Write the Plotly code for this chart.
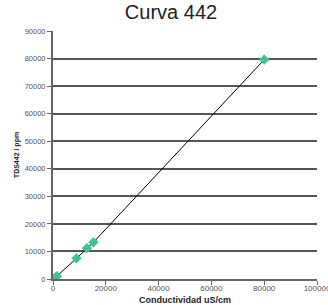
import plotly.graph_objects as go

conductividad = [0, 1413, 8900, 12880, 15300, 80000]
tds442 = [0, 1000, 7500, 11200, 13300, 79600]
x_ticks = [0, 20000, 40000, 60000, 80000, 100000]
y_ticks = [0, 10000, 20000, 30000, 40000, 50000, 60000, 70000, 80000, 90000]

fig = go.Figure()
fig.add_trace(go.Scatter(x=conductividad, y=tds442, mode="lines",
                         line=dict(color="black", width=1), showlegend=False))
fig.add_trace(go.Scatter(x=conductividad, y=tds442, mode="markers",
                         marker=dict(symbol="diamond", size=8, color="#3CC493"),
                         showlegend=False))

fig.update_layout(
    width=328, height=305,
    margin=dict(l=53, r=11, t=31, b=26, autoexpand=False),
    paper_bgcolor="white", plot_bgcolor="white",
    title=dict(text="Curva 442", xref="paper", x=0.447, xanchor="center",
               yref="container", y=0.985, yanchor="top",
               font=dict(family="Liberation Sans, Arial", size=20, color="#222")),
    font=dict(family="Liberation Sans, Arial"),
)
fig.update_xaxes(range=[0, 100000], tickvals=x_ticks, ticktext=[str(v) for v in x_ticks],
                 showgrid=False, showline=True, linecolor="#666", linewidth=2,
                 ticks="outside", ticklen=4, tickcolor="#666", automargin=False,
                 ticklabeloverflow="allow", ticklabelstandoff=-4,
                 tickfont=dict(size=8, color="#555"), zeroline=False)
fig.update_yaxes(range=[0, 90000], tickvals=y_ticks, ticktext=[str(v) for v in y_ticks],
                 showgrid=True, gridcolor="#555", gridwidth=1.5,
                 showline=True, linecolor="#666", linewidth=2,
                 ticks="outside", ticklen=4, tickcolor="#666", automargin=False,
                 tickfont=dict(size=7.5, color="#555"), zeroline=False,
                 title=dict(text="<b>TDS442 / ppm</b>", font=dict(size=7, color="#222"), standoff=4))

fig.add_annotation(text="<b>Conductividad uS/cm</b>", xref="paper", yref="paper",
                   x=0.5, y=0, yshift=-21, xanchor="center", yanchor="middle",
                   showarrow=False, font=dict(size=9, color="#222"))

fig.write_html("out.html", config={"displayModeBar": False},
               post_script="document.body.style.margin='0';document.body.style.padding='0';")
